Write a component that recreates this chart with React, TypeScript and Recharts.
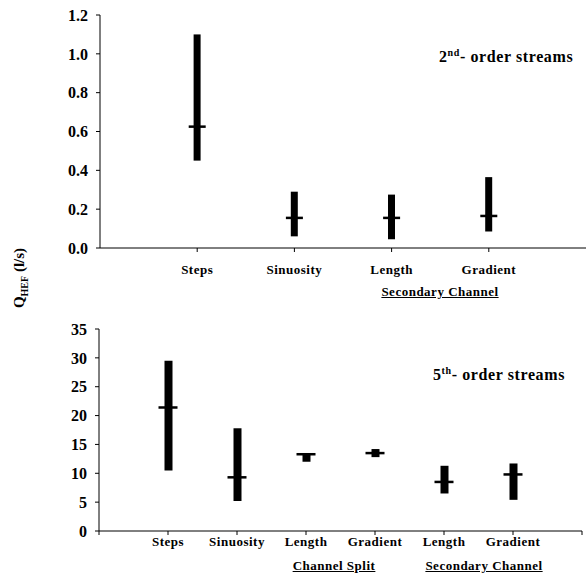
import React from 'react';
import { ComposedChart, Bar, Scatter, XAxis, YAxis } from 'recharts';

// 2nd-order streams (top panel)
const topCategories = ['Steps', 'Sinuosity', 'Length', 'Gradient'];
const topLow = [0.45, 0.06, 0.045, 0.085];
const topHigh = [1.1, 0.29, 0.275, 0.365];
const topMedian = [0.625, 0.155, 0.155, 0.165];
const topTicks = [0, 0.2, 0.4, 0.6, 0.8, 1.0, 1.2];

// 5th-order streams (bottom panel)
const bottomCategories = ['Steps', 'Sinuosity', 'Length', 'Gradient', 'Length', 'Gradient'];
const bottomLow = [10.5, 5.2, 12.0, 12.8, 6.5, 5.4];
const bottomHigh = [29.5, 17.8, 13.5, 14.2, 11.3, 11.7];
const bottomMedian = [21.4, 9.3, 13.3, 13.5, 8.5, 9.8];
const bottomTicks = [0, 5, 10, 15, 20, 25, 30, 35];

const FONT = 'Liberation Serif, Times New Roman, DejaVu Serif, serif';

const topData = topCategories.map((name, i) => ({
  x: i + 1,
  name,
  range: [topLow[i], topHigh[i]],
  median: topMedian[i],
}));

const bottomData = bottomCategories.map((name, i) => ({
  x: i + 1,
  name,
  range: [bottomLow[i], bottomHigh[i]],
  median: bottomMedian[i],
}));

const MedianMark = ({ cx, cy, w }: any) => (
  <rect x={cx - w / 2} y={cy - 1.25} width={w} height={2.5} fill="#000" />
);

const tickStyle = { fontFamily: FONT, fontWeight: 700, fill: '#000' };

const groupLabel: React.CSSProperties = {
  position: 'absolute',
  fontFamily: FONT,
  fontWeight: 700,
  fontSize: 13,
  letterSpacing: 0.5,
  textDecoration: 'underline',
  whiteSpace: 'nowrap',
  transform: 'translateX(-50%)',
};

const note: React.CSSProperties = {
  position: 'absolute',
  fontFamily: FONT,
  fontWeight: 700,
  fontSize: 16,
  letterSpacing: 0.6,
  whiteSpace: 'nowrap',
};

export default function App() {
  const nameOf = (cats: string[]) => (v: number) => cats[v - 1] ?? '';

  return (
    <div style={{ position: 'absolute', left: 0, top: 0, width: 586, height: 578, background: '#fff' }}>
      <div style={{ position: 'absolute', left: 0, top: 0 }}>
        <ComposedChart width={586} height={300} data={topData} margin={{ top: 15, right: 0, left: 0, bottom: 0 }}>
          <XAxis
            dataKey="x"
            type="number"
            domain={[0, 5]}
            ticks={[1, 2, 3, 4]}
            tickFormatter={nameOf(topCategories)}
            height={52}
            tickSize={4}
            tickMargin={13}
            stroke="#000"
            tick={{ ...tickStyle, fontSize: 13, letterSpacing: 0.5 }}
          />
          <YAxis
            type="number"
            domain={[0, 1.2]}
            ticks={topTicks}
            tickFormatter={(v: number) => v.toFixed(1)}
            width={100}
            tickSize={4}
            tickMargin={8}
            stroke="#000"
            tick={{ ...tickStyle, fontSize: 16 }}
          />
          <Bar dataKey="range" barSize={7} fill="#000" isAnimationActive={false} />
          <Scatter dataKey="median" shape={(p: any) => <MedianMark {...p} w={17} />} isAnimationActive={false} />
        </ComposedChart>
      </div>

      <div style={{ position: 'absolute', left: 0, top: 300 }}>
        <ComposedChart width={586} height={278} data={bottomData} margin={{ top: 29, right: 4, left: 0, bottom: 0 }}>
          <XAxis
            dataKey="x"
            type="number"
            domain={[0, 7]}
            ticks={[0, 1, 2, 3, 4, 5, 6, 7]}
            tickFormatter={nameOf(bottomCategories)}
            height={47}
            tickSize={4}
            tickMargin={2}
            stroke="#000"
            tick={{ ...tickStyle, fontSize: 13, letterSpacing: 0.5 }}
          />
          <YAxis
            type="number"
            domain={[0, 35]}
            ticks={bottomTicks}
            width={99}
            tickSize={4}
            tickMargin={8}
            stroke="#000"
            tick={{ ...tickStyle, fontSize: 16 }}
          />
          <Bar dataKey="range" barSize={8} fill="#000" isAnimationActive={false} />
          <Scatter dataKey="median" shape={(p: any) => <MedianMark {...p} w={19} />} isAnimationActive={false} />
        </ComposedChart>
      </div>

      {/* group labels under the axes */}
      <div style={{ ...groupLabel, left: 440, top: 284 }}>Secondary Channel</div>
      <div style={{ ...groupLabel, left: 334, top: 558 }}>Channel Split</div>
      <div style={{ ...groupLabel, left: 484, top: 558 }}>Secondary Channel</div>

      {/* panel notes */}
      <div style={{ ...note, left: 439, top: 47 }}>
        2<sup style={{ fontSize: 10 }}>nd</sup>- order streams
      </div>
      <div style={{ ...note, left: 433, top: 365 }}>
        5<sup style={{ fontSize: 10 }}>th</sup>- order streams
      </div>

      {/* shared y-axis title */}
      <div
        style={{
          position: 'absolute',
          left: 20,
          top: 278,
          transform: 'translate(-50%, -50%) rotate(-90deg)',
          fontFamily: FONT,
          fontWeight: 700,
          fontSize: 15,
          whiteSpace: 'nowrap',
        }}
      >
        Q<sub style={{ fontSize: 10 }}>HEF</sub> (l/s)
      </div>
    </div>
  );
}
